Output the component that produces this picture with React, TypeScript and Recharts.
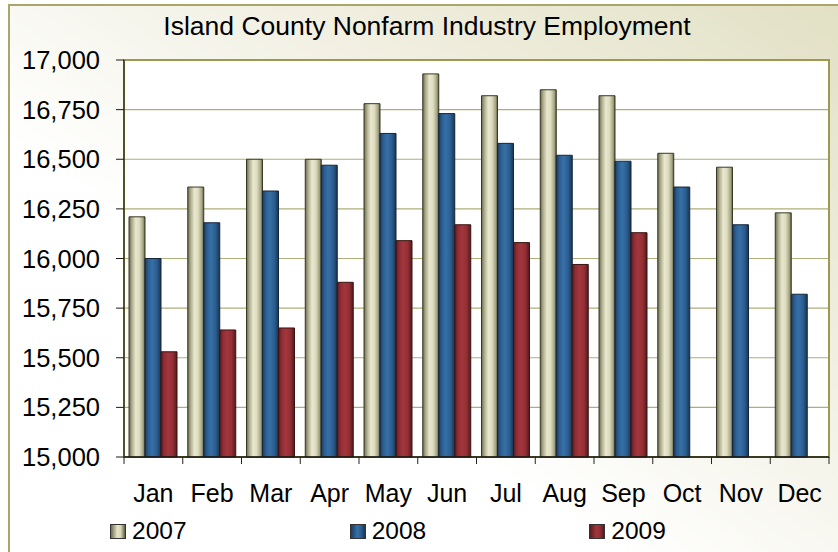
import React from "react";
import { Bar, BarChart, CartesianGrid, Legend, ReferenceArea, XAxis, YAxis } from "recharts";

const months = ["Jan", "Feb", "Mar", "Apr", "May", "Jun", "Jul", "Aug", "Sep", "Oct", "Nov", "Dec"];
const emp2007 = [16210, 16360, 16500, 16500, 16780, 16930, 16820, 16850, 16820, 16530, 16460, 16230];
const emp2008 = [16000, 16180, 16340, 16470, 16630, 16730, 16580, 16520, 16490, 16360, 16170, 15820];
const emp2009 = [15530, 15640, 15650, 15880, 16090, 16170, 16080, 15970, 16130, null, null, null];
const yTicks = [15000, 15250, 15500, 15750, 16000, 16250, 16500, 16750, 17000];

const data = months.map((m, i) => ({ month: m, y2007: emp2007[i], y2008: emp2008[i], y2009: emp2009[i] }));

const FONT = '"Liberation Sans", Arial, sans-serif';

const legendSwatch: Record<string, string> = {
  y2007: "linear-gradient(to right, #6e6e50, #e6e4c8 45%, #d8d6b8 70%, #5c5c3e)",
  y2008: "linear-gradient(to right, #1c3d60, #3570a8 45%, #2d6090 70%, #1a3656)",
  y2009: "linear-gradient(to right, #5a1a20, #a2363c 45%, #932f36 70%, #561a1e)",
};

function MonthTick(props: any) {
  const { x, y, payload, index } = props;
  const half = payload && payload.offset ? payload.offset : 29.4;
  return (
    <g>
      <line x1={x - half} x2={x - half} y1={y} y2={y + 7} stroke="#222" />
      {index === months.length - 1 && <line x1={x + half} x2={x + half} y1={y} y2={y + 7} stroke="#222" />}
      <text x={x} y={y + 45} textAnchor="middle" fontSize={25} fontFamily={FONT} fill="#000">
        {payload.value}
      </text>
    </g>
  );
}

function LegendBox({ payload }: any) {
  return (
    <div style={{ height: 30, display: "flex", paddingLeft: 110, fontFamily: FONT, fontSize: 24.5, lineHeight: "30px" }}>
      {(payload || []).map((p: any) => (
        <div key={p.dataKey} style={{ width: 281, display: "flex", alignItems: "center" }}>
          <span style={{ width: 14, height: 13, border: "1px solid #333", background: legendSwatch[p.dataKey], marginRight: 6 }} />
          <span>{p.value}</span>
        </div>
      ))}
    </div>
  );
}

export default function App() {
  return (
    <div style={{ position: "absolute", left: 0, top: 0, width: 838, height: 552, overflow: "hidden", background: "#fff" }}>
      <div
        style={{
          position: "absolute", left: 8, top: 4, width: 860, height: 580,
          border: "2px solid #aaa66a",
          background: "linear-gradient(to bottom left, #e1e0c3 0%, #f3f2e6 38%, #ffffff 62%)",
        }}
      />
      <div style={{ position: "absolute", left: 0, top: 11, width: 854, textAlign: "center", fontFamily: FONT, fontSize: 26.5, lineHeight: "30px", color: "#000" }}>
        Island County Nonfarm Industry Employment
      </div>
      <div style={{ position: "absolute", left: 0, top: 0 }}>
        <BarChart width={838} height={552} data={data} margin={{ top: 60, right: 9, bottom: 6, left: 0 }} barCategoryGap={5} barGap={0}>
          <defs>
            <linearGradient id="g2007" x1="0" y1="0" x2="1" y2="0">
              <stop offset="0" stopColor="#6a6a4c" />
              <stop offset="0.18" stopColor="#aeac90" />
              <stop offset="0.42" stopColor="#eae8cc" />
              <stop offset="0.65" stopColor="#dedcbe" />
              <stop offset="0.88" stopColor="#a6a486" />
              <stop offset="1" stopColor="#5a5a3c" />
            </linearGradient>
            <linearGradient id="g2008" x1="0" y1="0" x2="1" y2="0">
              <stop offset="0" stopColor="#1c3a5c" />
              <stop offset="0.2" stopColor="#2c5e90" />
              <stop offset="0.45" stopColor="#3670a8" />
              <stop offset="0.75" stopColor="#2b5d8e" />
              <stop offset="1" stopColor="#183452" />
            </linearGradient>
            <linearGradient id="g2009" x1="0" y1="0" x2="1" y2="0">
              <stop offset="0" stopColor="#581a1f" />
              <stop offset="0.2" stopColor="#8e2e34" />
              <stop offset="0.45" stopColor="#a3363c" />
              <stop offset="0.75" stopColor="#912f35" />
              <stop offset="1" stopColor="#52181c" />
            </linearGradient>
          </defs>
          <CartesianGrid vertical={false} stroke="#b0ae7a" strokeWidth={1.2} fill="#ffffff" fillOpacity={1} />
          <ReferenceArea y1={15000} y2={17000} fill="none" stroke="#9c9a52" strokeWidth={2} ifOverflow="visible" />
          <XAxis
            dataKey="month"
            interval={0}
            height={59}
            tickLine={false}
            tickSize={0}
            tickMargin={0}
            axisLine={{ stroke: "#1a1a10", strokeWidth: 1.5 }}
            tick={<MonthTick />}
          />
          <YAxis
            width={124}
            domain={[15000, 17000]}
            ticks={yTicks}
            interval={0}
            tickSize={8}
            tickMargin={16}
            tickLine={{ stroke: "#1a1a10" }}
            axisLine={{ stroke: "#3a3a18", strokeWidth: 1.5 }}
            tickFormatter={(v: number) => v.toLocaleString("en-US")}
            tick={{ fontSize: 25.5, fontFamily: FONT, fill: "#000" }}
          />
          <Legend verticalAlign="bottom" align="left" content={<LegendBox />} />
          <Bar dataKey="y2007" name="2007" fill="url(#g2007)" stroke="#3a3a22" strokeWidth={1} isAnimationActive={false} />
          <Bar dataKey="y2008" name="2008" fill="url(#g2008)" stroke="#15263a" strokeWidth={1} isAnimationActive={false} />
          <Bar dataKey="y2009" name="2009" fill="url(#g2009)" stroke="#3a1410" strokeWidth={1} isAnimationActive={false} />
        </BarChart>
      </div>
    </div>
  );
}
